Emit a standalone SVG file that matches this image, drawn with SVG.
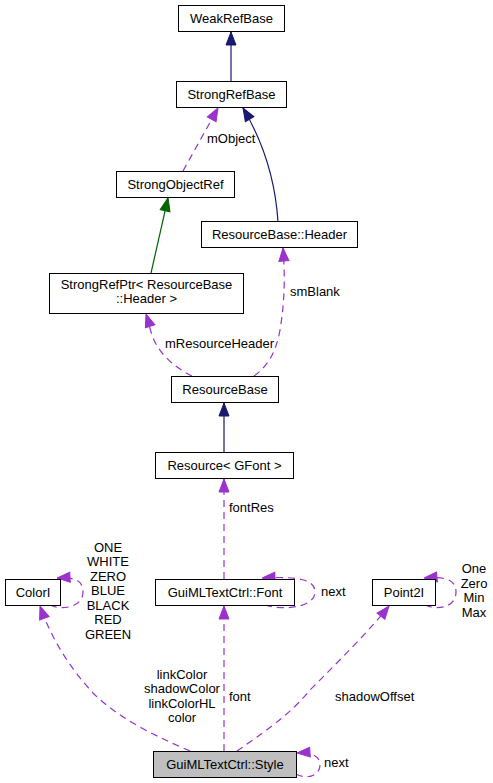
<svg xmlns="http://www.w3.org/2000/svg" width="493" height="783" viewBox="0 0 493 783">
<style>
text{font-family:"Liberation Sans",Arial,sans-serif;font-size:13px;fill:#000}
.n rect{fill:#fff;stroke:#000;stroke-width:1}
.n text{text-anchor:middle}
.lbl{text-anchor:middle}
.inh{fill:none;stroke:#191970;stroke-width:1.2}
.grn{fill:none;stroke:#006400;stroke-width:1.2}
.use{fill:none;stroke:#9a32cd;stroke-width:1.2;stroke-dasharray:7,5}
</style>
<defs>
<marker id="aN" markerUnits="userSpaceOnUse" markerWidth="14" markerHeight="12" viewBox="-1 -1 14 12" refX="13" refY="5" orient="auto"><path d="M0,0 L13,5 L0,10 z" fill="#191970" stroke="#191970"/></marker>
<marker id="aG" markerUnits="userSpaceOnUse" markerWidth="14" markerHeight="12" viewBox="-1 -1 14 12" refX="13" refY="5" orient="auto"><path d="M0,0 L13,5 L0,10 z" fill="#006400" stroke="#006400"/></marker>
<marker id="aP" markerUnits="userSpaceOnUse" markerWidth="14" markerHeight="12" viewBox="-1 -1 14 12" refX="13" refY="5" orient="auto"><path d="M0,0 L13,5 L0,10 z" fill="#9a32cd" stroke="#9a32cd"/></marker>
</defs>
<g id="connectors">
<path class="inh" d="M231,81 L231,32" marker-end="url(#aN)"/>
<path class="inh" d="M278,222 C276,190 268,150 243,108" marker-end="url(#aN)"/>
<path class="use" d="M183,171 L218,108" marker-end="url(#aP)"/>
<path class="grn" d="M151,273 L168,198" marker-end="url(#aG)"/>
<path class="use" d="M254,376 C268,366 276,352 280,330 C285,300 285,275 283,248" marker-end="url(#aP)"/>
<path class="use" d="M192,376 C170,365 157,350 152,335 C149,326 148,320 146,314" marker-end="url(#aP)"/>
<path class="inh" d="M224,452 L224,403" marker-end="url(#aN)"/>
<path class="use" d="M224,579 L224,479" marker-end="url(#aP)"/>
<path class="use" d="M224,751 L224,606" marker-end="url(#aP)"/>
<path class="use" d="M190,751 C160,738 120,720 93,693 C70,668 52,640 40,606" marker-end="url(#aP)"/>
<path class="use" d="M237,751 C260,735 290,715 310,690 C340,660 370,630 389,606" marker-end="url(#aP)"/>
<path class="use" d="M50,605 C62,611 83,607 83,592 C83,581 76,577 57,578" marker-end="url(#aP)"/>
<path class="use" d="M265,605 C285,611 315,607 315,592 C315,580 300,576 262,578" marker-end="url(#aP)"/>
<path class="use" d="M425,605 C438,611 456,607 456,592 C456,581 448,576 424,578" marker-end="url(#aP)"/>
<path class="use" d="M296,774 C306,780 320,776 320,765 C320,756 312,752 297,753" marker-end="url(#aP)"/>
</g>
<g id="WeakRefBase" class="n"><rect x="178.5" y="5.5" width="106" height="26"/><text x="231.5" y="23">WeakRefBase</text></g>
<g id="StrongRefBase" class="n"><rect x="176.5" y="81.5" width="110" height="26"/><text x="231.5" y="99">StrongRefBase</text></g>
<g id="StrongObjectRef" class="n"><rect x="116.5" y="171.5" width="118" height="26"/><text x="175.5" y="189">StrongObjectRef</text></g>
<g id="ResourceBaseHeader" class="n"><rect x="201.5" y="221.5" width="156" height="26"/><text x="279.5" y="239">ResourceBase::Header</text></g>
<g id="StrongRefPtr" class="n"><rect x="49.5" y="273.5" width="194" height="40"/><text x="146.5" y="289">StrongRefPtr&lt; ResourceBase</text><text x="146.5" y="303">::Header &gt;</text></g>
<g id="ResourceBase" class="n"><rect x="171.5" y="376.5" width="107" height="26"/><text x="225" y="394">ResourceBase</text></g>
<g id="ResourceGFont" class="n"><rect x="155.5" y="452.5" width="138" height="26"/><text x="224.5" y="470">Resource&lt; GFont &gt;</text></g>
<g id="ColorI" class="n"><rect x="5.5" y="579.5" width="55" height="26"/><text x="33" y="597">ColorI</text></g>
<g id="GuiMLTextCtrlFont" class="n"><rect x="155.5" y="579.5" width="139" height="26"/><text x="225" y="597">GuiMLTextCtrl::Font</text></g>
<g id="Point2I" class="n"><rect x="372.5" y="579.5" width="63" height="26"/><text x="404" y="597">Point2I</text></g>
<g id="GuiMLTextCtrlStyle" class="n"><rect x="153.5" y="751.5" width="143" height="26" style="fill:#bfbfbf"/><text x="225" y="769">GuiMLTextCtrl::Style</text></g>
<g id="labels">
<text x="207" y="143">mObject</text>
<text x="290" y="296">smBlank</text>
<text x="165" y="348">mResourceHeader</text>
<text x="229" y="512">fontRes</text>
<text class="lbl" x="108" y="552">ONE</text>
<text class="lbl" x="108" y="566">WHITE</text>
<text class="lbl" x="108" y="581">ZERO</text>
<text class="lbl" x="108" y="595">BLUE</text>
<text class="lbl" x="108" y="610">BLACK</text>
<text class="lbl" x="108" y="624">RED</text>
<text class="lbl" x="108" y="639">GREEN</text>
<text x="321" y="596">next</text>
<text class="lbl" x="474" y="573">One</text>
<text class="lbl" x="474" y="588">Zero</text>
<text class="lbl" x="474" y="602">Min</text>
<text class="lbl" x="474" y="617">Max</text>
<text class="lbl" x="182" y="679">linkColor</text>
<text class="lbl" x="182" y="693">shadowColor</text>
<text class="lbl" x="182" y="708">linkColorHL</text>
<text class="lbl" x="182" y="722">color</text>
<text x="229" y="701">font</text>
<text x="335" y="701">shadowOffset</text>
<text x="324" y="767">next</text>
</g>
</svg>
